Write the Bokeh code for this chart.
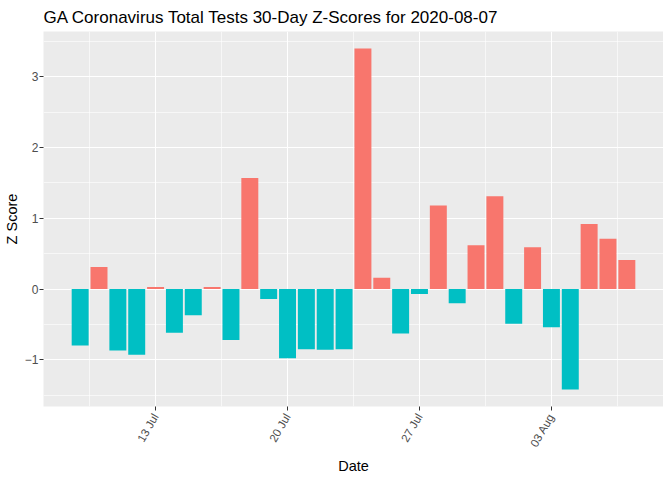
import math
import pandas as pd
from bokeh.plotting import figure
from bokeh.models import ColumnDataSource, FixedTicker, DatetimeTickFormatter, Range1d
from bokeh.embed import file_html
from bokeh.resources import INLINE

dates = list(pd.date_range("2020-07-09", "2020-08-07", freq="D"))
zscores = [-0.80, 0.31, -0.87, -0.93, 0.03, -0.62, -0.37, 0.03, -0.72, 1.57,
           -0.14, -0.98, -0.85, -0.86, -0.85, 3.40, 0.16, -0.63, -0.07, 1.18,
           -0.20, 0.62, 1.31, -0.49, 0.59, -0.54, -1.42, 0.92, 0.71, 0.41]
tick_dates = ["2020-07-13", "2020-07-20", "2020-07-27", "2020-08-03"]
y_ticks = [-1, 0, 1, 2, 3]
title = "GA Coronavirus Total Tests 30-Day Z-Scores for 2020-08-07"

POS = "#F8766D"
NEG = "#00BFC4"
colors = [POS if z > 0 else NEG for z in zscores]

DAY = 86400000.0
xs = [d.value / 1e6 for d in dates]
src = ColumnDataSource(dict(x=xs, top=zscores, color=colors))

span = (xs[-1] - xs[0]) + 0.9 * DAY
xlo = xs[0] - 0.45 * DAY - 0.05 * span
xhi = xs[-1] + 0.45 * DAY + 0.05 * span
ymin, ymax = min(zscores), max(zscores)
ys = ymax - ymin
ylo, yhi = ymin - 0.05 * ys, ymax + 0.05 * ys

p = figure(frame_width=620, frame_height=375, output_backend="svg", toolbar_location=None,
           x_range=Range1d(xlo, xhi), y_range=Range1d(ylo, yhi),
           title=title, x_axis_type="datetime")
p.vbar(x="x", top="top", bottom=0, width=0.9 * DAY, fill_color="color",
       line_color=None, source=src)

tks = [pd.Timestamp(t).value / 1e6 for t in tick_dates]
minor_x = [tks[0] - 3.5 * DAY] + [t + 3.5 * DAY for t in tks]
p.xaxis.ticker = FixedTicker(ticks=tks, minor_ticks=minor_x)
p.xaxis.formatter = DatetimeTickFormatter(days="%d %b", months="%d %b")
minor_y = [v + 0.5 for v in range(-2, 4)]
p.yaxis.ticker = FixedTicker(ticks=y_ticks, minor_ticks=minor_y)

p.background_fill_color = "#EBEBEB"
p.border_fill_color = "white"
p.outline_line_color = None
for g in (p.xgrid, p.ygrid):
    g.grid_line_color = "white"
    g.grid_line_width = 1.1
    g.minor_grid_line_color = "white"
    g.minor_grid_line_width = 0.6

for ax in (p.xaxis, p.yaxis):
    ax.axis_line_color = None
    ax.minor_tick_line_color = None
    ax.major_tick_line_color = "#333333"
    ax.major_tick_out = 4
    ax.major_tick_in = 0
    ax.major_label_text_color = "#4D4D4D"
    ax.major_label_text_font = "Liberation Sans"
    ax.major_label_text_font_size = "12px"
    ax.axis_label_text_font = "Liberation Sans"
    ax.axis_label_text_font_size = "14.5px"
    ax.axis_label_text_font_style = "normal"
    ax.axis_label_text_color = "black"

p.xaxis.major_label_text_font_size = "11.5px"
p.xaxis.axis_label = "Date"
p.yaxis.axis_label = "Z Score"
p.xaxis.major_label_orientation = math.pi / 3
p.yaxis.axis_label_standoff = 2
p.yaxis.major_label_standoff = 1
p.xaxis.major_label_standoff = 4
p.xaxis.axis_label_standoff = 3

p.title.text_font = "Liberation Sans"
p.title.text_font_size = "17px"
p.title.text_font_style = "normal"
p.title.text_color = "black"
p.min_border_left = 0
p.min_border_right = 0
p.min_border_top = 0
p.min_border_bottom = 0

open("out.html", "w").write(file_html(p, INLINE))
